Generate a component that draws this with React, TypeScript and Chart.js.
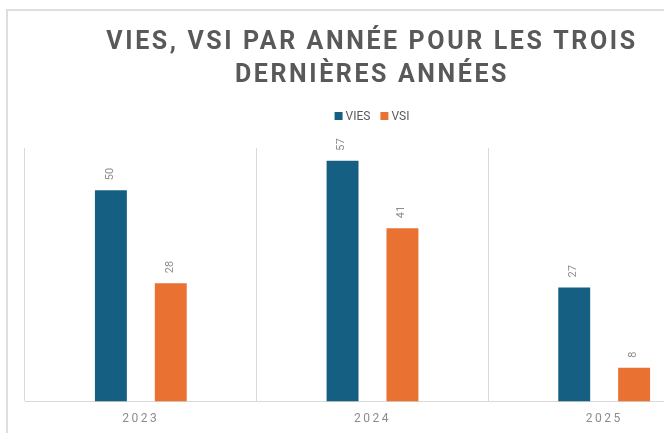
import React, { useEffect, useRef } from "react";
import { Chart, registerables } from "chart.js";

Chart.register(...registerables);

const categories = ["2023", "2024", "2025"];
const viesValues = [50, 57, 27];
const vsiValues = [28, 41, 8];
const titleLines = ["VIES, VSI PAR ANNÉE POUR LES TROIS", "DERNIÈRES ANNÉES"];
const seriesNames = ["VIES", "VSI"];
const seriesColors = ["#156082", "#E97132"];

const FONT = "Roboto, 'Liberation Sans', Arial, sans-serif";

const decorPlugin = {
  id: "decor",
  beforeDraw(chart: any) {
    (chart.ctx as any).letterSpacing = "2.5px";
  },
  afterDatasetsDraw(chart: any) {
    const ctx = chart.ctx;
    ctx.save();
    (ctx as any).letterSpacing = "0px";
    ctx.font = `11px ${FONT}`;
    ctx.fillStyle = "#8c8c8c";
    ctx.textAlign = "left";
    ctx.textBaseline = "middle";
    chart.data.datasets.forEach((ds: any, di: number) => {
      const meta = chart.getDatasetMeta(di);
      meta.data.forEach((bar: any, i: number) => {
        ctx.save();
        ctx.translate(bar.x - 1, bar.y - 10);
        ctx.rotate(-Math.PI / 2);
        ctx.fillText(String(ds.data[i]), 0, 0);
        ctx.restore();
      });
    });
    ctx.restore();
  },
  afterDraw(chart: any) {
    const ctx = chart.ctx;
    const cx = chart.width / 2;
    ctx.save();
    // Title
    (ctx as any).letterSpacing = "2.6px";
    ctx.font = `bold 25px ${FONT}`;
    ctx.fillStyle = "#595959";
    ctx.textAlign = "center";
    ctx.textBaseline = "alphabetic";
    ctx.fillText(titleLines[0], cx, 48.5);
    ctx.fillText(titleLines[1], cx, 81.5);
    // Legend
    (ctx as any).letterSpacing = "0px";
    ctx.font = `12px ${FONT}`;
    ctx.textAlign = "left";
    const box = 8, gap = 3, itemGap = 10;
    const widths = seriesNames.map((n) => ctx.measureText(n).width);
    const total = widths.reduce((a, w) => a + box + gap + w, 0) + itemGap * (seriesNames.length - 1);
    let x = cx - total / 2;
    const y = 116;
    seriesNames.forEach((n, i) => {
      ctx.fillStyle = seriesColors[i];
      ctx.fillRect(x, y - 4, box, box);
      x += box + gap;
      ctx.fillStyle = "#595959";
      ctx.textBaseline = "middle";
      ctx.fillText(n, x, y + 0.5);
      x += widths[i] + itemGap;
    });
    ctx.restore();
  },
};

export default function App() {
  const ref = useRef<HTMLCanvasElement>(null);
  useEffect(() => {
    if (!ref.current) return;
    const chart = new Chart(ref.current, {
      type: "bar",
      data: {
        labels: categories,
        datasets: [
          { label: seriesNames[0], data: viesValues, backgroundColor: seriesColors[0], borderWidth: 0 },
          { label: seriesNames[1], data: vsiValues, backgroundColor: seriesColors[1], borderWidth: 0 },
        ],
      },
      options: {
        animation: false,
        responsive: false,
        maintainAspectRatio: false,
        devicePixelRatio: 1,
        layout: { padding: { top: 148, left: 25, right: 24, bottom: 0 } },
        datasets: { bar: { categoryPercentage: 0.517, barPercentage: 0.533 } },
        plugins: {
          legend: { display: false },
          title: { display: false },
          tooltip: { enabled: false },
        },
        scales: {
          x: {
            offset: true,
            grid: { display: true, offset: true, color: "#d9d9d9", lineWidth: 1, drawTicks: false },
            border: { display: true, color: "#d9d9d9", width: 1 },
            ticks: { color: "#8c8c8c", padding: 10, font: { family: FONT, size: 12 } },
          },
          y: {
            display: false,
            min: 0,
            max: 60,
          },
        },
      },
      plugins: [decorPlugin],
    });
    return () => chart.destroy();
  }, []);
  return (
    <div style={{ position: "fixed", left: 0, top: 0, width: 664, height: 433, overflow: "hidden", background: "#fff" }}>
      <canvas ref={ref} width={744} height={436} style={{ position: "absolute", left: 0, top: 0, width: 744, height: 436 }} />
      <div style={{ position: "absolute", left: 6, top: 9, width: 700, height: 2, background: "#dedede" }} />
      <div style={{ position: "absolute", left: 6, top: 9, width: 2, height: 430, background: "#dedede" }} />
    </div>
  );
}
